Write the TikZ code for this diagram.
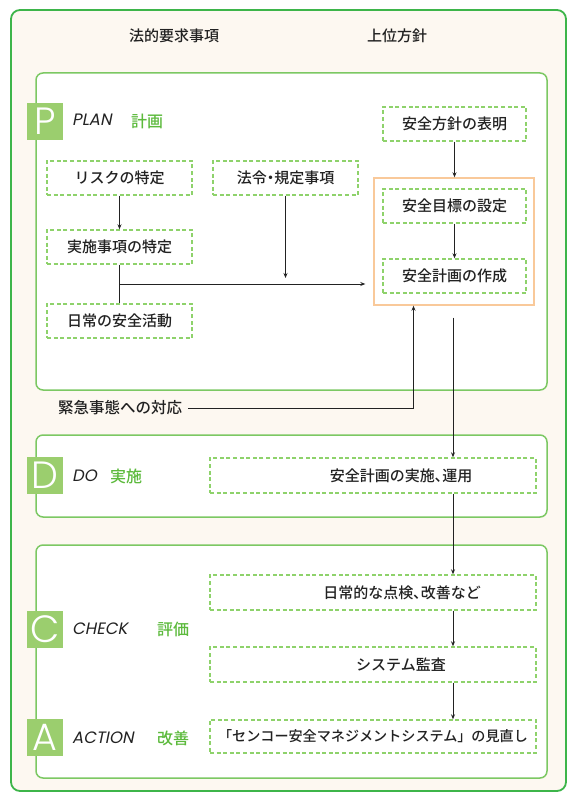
\documentclass[tikz,border=0pt]{standalone}
\usepackage{fontspec}
\newfontfamily\jp{Noto Sans CJK JP}[UprightFont=* Medium]
\newfontfamily\jpp{Noto Sans CJK JP}[UprightFont=* Medium, RawFeature=+palt]
\newfontfamily\tilef{Poppins Light}
\newfontfamily\phasef[FakeSlant=0.2]{Poppins}
\newcommand\narrowp[1]{{\jpp #1}}
\usetikzlibrary{arrows.meta,calc}
\definecolor{frameG}{HTML}{3DB54A}
\definecolor{cream}{HTML}{FDF8F1}
\definecolor{phaseG}{HTML}{7CC863}
\definecolor{dashG}{HTML}{8ED26B}
\definecolor{tileG}{HTML}{9BCE6E}
\definecolor{labelG}{HTML}{5CBA3C}
\definecolor{orangeB}{HTML}{F9C99A}
\definecolor{ink}{HTML}{222222}
\begin{document}
\begin{tikzpicture}[x=1pt,y=-1pt,
  frame/.style={draw=frameG, line width=1.8pt, fill=cream, rounded corners=9pt, inner sep=0pt},
  phasebox/.style={draw=phaseG, line width=1.5pt, fill=white, rounded corners=7pt, minimum width=511pt, inner sep=0pt},
  dbox/.style={draw=dashG, line width=1.4pt, dash pattern=on 4pt off 2.6pt, fill=white, inner sep=0pt, minimum height=34pt, text=ink, font=\jp\fontsize{15}{17}\selectfont},
  smallbox/.style={dbox, minimum width=145pt},
  rbox/.style={dbox, minimum width=143pt},
  widebox/.style={dbox, minimum width=326pt, minimum height=35pt},
  jtxt/.style={inner sep=0pt, text=ink, font=\jp\fontsize{15}{17}\selectfont},
  tile/.style={fill=tileG, minimum width=36pt, minimum height=37pt, inner sep=0pt, text=white, font=\tilef\fontsize{38}{38}\selectfont},
  phlabel/.style={anchor=west, inner sep=0pt, text=ink, font=\phasef\fontsize{16.5}{17}\selectfont},
  grlabel/.style={anchor=west, inner sep=0pt, text=labelG, font=\jp\fontsize{16}{18}\selectfont},
  arr/.style={draw=ink, line width=0.8pt, -{Stealth[length=5pt,width=4pt]}},
  ln/.style={draw=ink, line width=0.8pt}
]
\useasboundingbox (0,0) rectangle (569,794);
% outer frame
\node[frame, minimum width=555pt, minimum height=781pt] (frame) at (288.5,400.5) {};
% headers
\node[jtxt] (hdrL) at (174,36) {法的要求事項};
\node[jtxt] (hdrR) at (397,36) {上位方針};
% phase boxes
\node[phasebox, minimum height=317pt] (plan) at (291.5,231.5) {};
\node[phasebox, minimum height=82pt] (do) at (291.5,476) {};
\node[phasebox, minimum height=233pt] (check) at (291.5,661.5) {};
% tiles and labels
\node[tile] (tP) at (45,121.5) {P};
\node[tile] (tD) at (45,475.5) {D};
\node[tile] (tC) at (45,629.5) {C};
\node[tile] (tA) at (45,737.5) {A};
\node[phlabel] (lP) at (72,120) {PLAN};
\node[grlabel] (gP) at (131,121) {計画};
\node[phlabel] (lD) at (72,475.5) {DO};
\node[grlabel] (gD) at (110,476) {実施};
\node[phlabel] (lC) at (72,629) {CHECK};
\node[grlabel] (gC) at (157,629) {評価};
\node[phlabel] (lA) at (72,738) {ACTION};
\node[grlabel] (gA) at (157,738) {改善};
% PLAN contents
\node[draw=orangeB, line width=1.4pt, fill=white, minimum width=160pt, minimum height=127pt, inner sep=0pt] (orange) at (454,241.5) {};
\node[rbox] (hoshin) at (454.5,124) {安全方針の表明};
\node[rbox] (mokuhyo) at (454.5,206) {安全目標の設定};
\node[rbox] (keikaku) at (454.5,276) {安全計画の作成};
\node[smallbox] (risk) at (119.5,178) {リスクの特定};
\node[smallbox] (hourei) at (285.5,178) {法令\narrowp{・}規定事項};
\node[smallbox] (jisshi) at (119.5,247) {実施事項の特定};
\node[smallbox] (nichijo) at (119.5,321) {日常の安全活動};
\node[jtxt, font=\jp\fontsize{15.5}{17}\selectfont] (kinkyu) at (120,408) {緊急事態への対応};
% DO / CHECK / ACTION contents
\node[widebox] (do1) at (373,475.5) {};
\node[jtxt] (do1t) at (401,475.5) {安全計画の実施\narrowp{、}運用};
\node[widebox] (chk1) at (373,592.5) {};
\node[jtxt] (chk1t) at (402,592.5) {日常的な点検\narrowp{、}改善など};
\node[widebox] (chk2) at (373,664.5) {};
\node[jtxt] (chk2t) at (401,664.5) {システム監査};
\node[widebox, font=\jp\fontsize{14.1}{17}\selectfont, minimum height=33pt] (act1) at (373,736.5) {「センコー安全マネジメントシステム」の見直し};
% connectors
\draw[arr] (hoshin.south) -- (hoshin.south |- orange.north);
\draw[arr] (mokuhyo.south) -- (keikaku.north);
\draw[arr] (risk.south) -- (jisshi.north);
\draw[ln] (jisshi.south) -- (nichijo.north);
\coordinate (jn) at ($(jisshi.south)!0.5!(nichijo.north)$);
\draw[arr, shorten >=8pt] (jn) -- (jn -| orange.west);
\draw[arr, shorten >=6pt] (hourei.south) -- (hourei.south |- jn);
\draw[arr, shorten <=6pt] (kinkyu.east) -| ($(orange.south)+(-40.5,0)$);
\path (orange.south) ++(-1,12) coordinate (dstart);
\draw[arr] (dstart) -- (dstart |- do1.north);
\draw[arr] (dstart |- do1.south) -- (dstart |- chk1.north);
\draw[arr] (dstart |- chk1.south) -- (dstart |- chk2.north);
\draw[arr] (dstart |- chk2.south) -- (dstart |- act1.north);
\end{tikzpicture}
\end{document}
